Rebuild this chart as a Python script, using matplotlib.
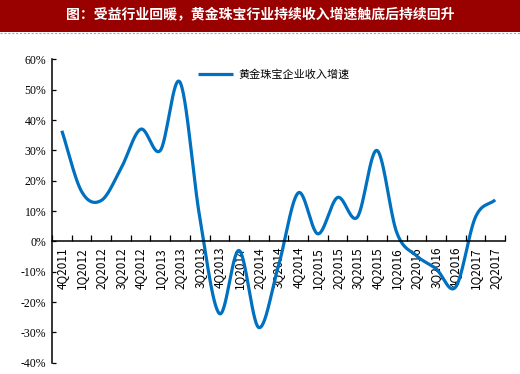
import numpy as np
import matplotlib
matplotlib.use("Agg")
import matplotlib.pyplot as plt
from matplotlib.patches import Rectangle
from matplotlib.lines import Line2D

plt.rcParams['font.family'] = ['Noto Sans CJK SC', 'DejaVu Sans']

title = "图：受益行业回暖，黄金珠宝行业持续收入增速触底后持续回升"
series_name = "黄金珠宝企业收入增速"
quarters = ["4Q2011", "1Q2012", "2Q2012", "3Q2012", "4Q2012", "1Q2013", "2Q2013",
            "3Q2013", "4Q2013", "1Q2014", "2Q2014", "3Q2014", "4Q2014", "1Q2015",
            "2Q2015", "3Q2015", "4Q2015", "1Q2016", "2Q2016", "3Q2016", "4Q2016",
            "1Q2017", "2Q2017"]
growth = [36.5, 16.5, 13.5, 24.0, 37.0, 30.0, 52.5,
          8.0, -23.8, -3.0, -28.4, -8.0, 16.0, 2.5,
          14.5, 8.0, 30.0, 3.0, -4.7, -9.0, -15.0,
          8.0, 13.7]
yticks = [-40, -30, -20, -10, 0, 10, 20, 30, 40, 50, 60]


def catmull_rom(x, y, n=30):
    x = np.asarray(x, float)
    y = np.asarray(y, float)
    px = np.concatenate([[2 * x[0] - x[1]], x, [2 * x[-1] - x[-2]]])
    py = np.concatenate([[2 * y[0] - y[1]], y, [2 * y[-1] - y[-2]]])
    xs, ys = [], []
    t = np.linspace(0, 1, n, endpoint=False)
    for i in range(1, len(px) - 2):
        for P, out in ((px, xs), (py, ys)):
            p0, p1, p2, p3 = P[i - 1], P[i], P[i + 1], P[i + 2]
            out.extend(0.5 * ((2 * p1) + (-p0 + p2) * t
                              + (2 * p0 - 5 * p1 + 4 * p2 - p3) * t ** 2
                              + (-p0 + 3 * p1 - 3 * p2 + p3) * t ** 3))
    xs.append(x[-1])
    ys.append(y[-1])
    return np.array(xs), np.array(ys)


fig = plt.figure(figsize=(5.2, 3.74), dpi=100)

# title bar
fig.patches.append(Rectangle((0, 1 - 31.5 / 374), 1, 31.5 / 374, transform=fig.transFigure,
                             facecolor="#990000", edgecolor="none", zorder=0))
fig.lines.append(Line2D([0, 1], [1 - 32.5 / 374] * 2, transform=fig.transFigure,
                        color="#8FA8E0", linewidth=0.8, linestyle=(0, (2, 1.5))))
fig.text(0.5, 1 - 15.5 / 374, title, color="white", fontsize=10, fontweight="bold",
         ha="center", va="center")

ax = fig.add_axes([52 / 520, 11.3 / 374, (505 - 52) / 520, (362.7 - 59.5) / 374])
xpos = np.arange(len(quarters))
sx, sy = catmull_rom(xpos, growth)
line, = ax.plot(sx, sy, color="#0070C0", linewidth=2.3, solid_capstyle="butt")

ax.set_xlim(-0.5, len(quarters) - 0.5)
ax.set_ylim(-40, 60)
ax.set_yticks(yticks)
ax.set_yticklabels([f"{v}%" for v in yticks])
ax.set_xticks(np.arange(-0.5, len(quarters), 1.0))
ax.set_xticks(xpos, minor=True)
ax.xaxis.set_major_formatter(matplotlib.ticker.NullFormatter())
ax.xaxis.set_minor_formatter(matplotlib.ticker.FixedFormatter(quarters))
ax.tick_params(axis="x", which="major", direction="in", length=4, width=0.9)
ax.tick_params(axis="x", which="minor", length=0, pad=4, labelrotation=90, labelsize=8.5)
ax.tick_params(axis="y", direction="in", length=3, width=0.9, pad=4, labelsize=8.5)
for lab in ax.get_yticklabels() + ax.xaxis.get_ticklabels(minor=True):
    lab.set_fontfamily("Liberation Serif")
for lab in ax.xaxis.get_ticklabels(minor=True):
    lab.set_verticalalignment("top")

for s in ("top", "right"):
    ax.spines[s].set_visible(False)
ax.spines["bottom"].set_position(("data", 0))
ax.spines["bottom"].set_linewidth(1.1)
ax.spines["left"].set_linewidth(1.1)

leg = ax.legend([line], [series_name], loc="upper left", bbox_to_anchor=(0.3, 1.0),
                frameon=False, fontsize=8, handlelength=3.2, handletextpad=0.4)

fig.savefig("out.png", dpi=100)
